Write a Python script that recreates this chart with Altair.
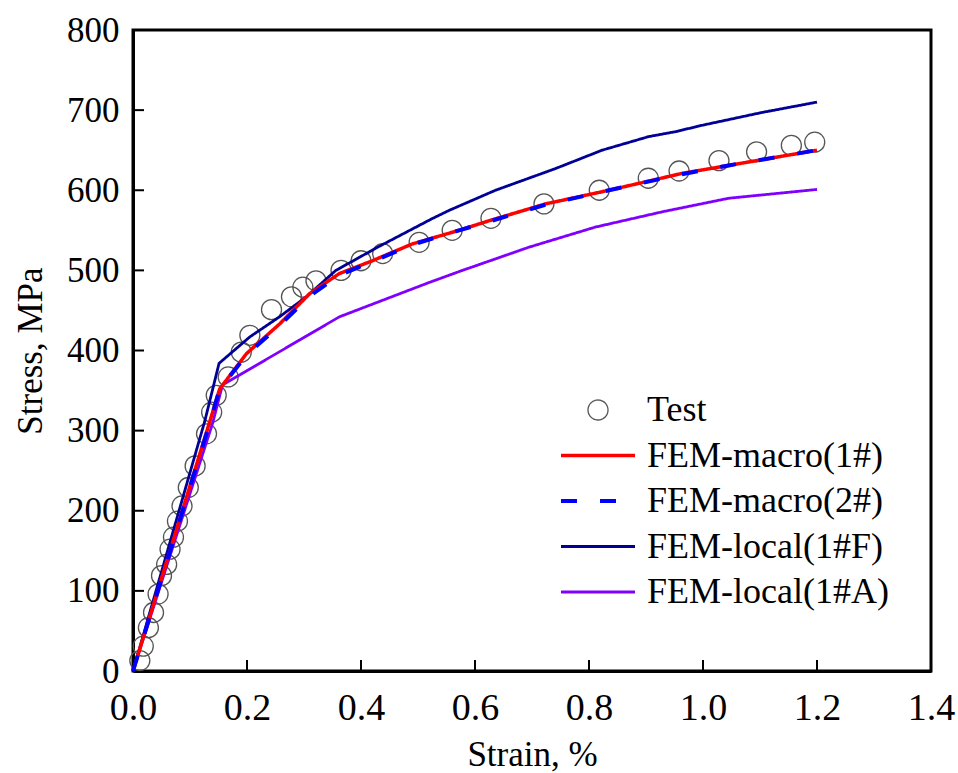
import altair as alt
import pandas as pd

# ---------------- data ----------------
series = ["Test", "FEM-macro(1#)", "FEM-macro(2#)", "FEM-local(1#F)", "FEM-local(1#A)"]
colors = ["#555555", "#FF0000", "#0000FF", "#000096", "#8000FF"]

test_strain = [0.012, 0.018, 0.027, 0.036, 0.044, 0.050, 0.059, 0.065, 0.071, 0.078,
               0.086, 0.097, 0.109, 0.129, 0.138, 0.146, 0.167, 0.190, 0.205, 0.243,
               0.278, 0.298, 0.321, 0.365, 0.400, 0.438, 0.502, 0.560, 0.628, 0.721,
               0.818, 0.904, 0.958, 1.028, 1.094, 1.155, 1.196]
test_stress = [13, 31, 54, 73, 96, 119, 133, 152, 167, 187,
               206, 229, 256, 296, 323, 344, 367, 398, 419, 451,
               467, 479, 487, 500, 512, 521, 535, 550, 565, 583,
               600, 615, 624, 637, 648, 656, 660]

macro1_strain = [0, 0.135, 0.152, 0.199, 0.257, 0.310, 0.362, 0.420, 0.490, 0.572,
                 0.625, 0.724, 0.835, 0.963, 1.045, 1.200]
macro1_stress = [0, 312, 352, 396, 433, 471, 496, 512, 533, 550,
                 562, 583, 600, 621, 631, 650]

macro2_strain = [0, 0.135, 0.152, 0.200, 0.257, 0.310, 0.362, 0.420, 0.490, 0.572,
                 0.625, 0.724, 0.835, 0.963, 1.045, 1.200]
macro2_stress = [0, 310, 352, 395, 431, 468, 494, 511, 532, 550,
                 561, 582, 600, 620, 631, 650]

localF_strain = [0, 0.126, 0.151, 0.205, 0.257, 0.304, 0.356, 0.432, 0.526, 0.555,
                 0.636, 0.741, 0.823, 0.905, 0.951, 0.998, 1.103, 1.200]
localF_stress = [0, 312, 384, 417, 442, 467, 500, 530, 565, 575,
                 600, 627, 650, 667, 673, 681, 697, 710]

localA_strain = [0, 0.140, 0.157, 0.362, 0.520, 0.578, 0.695, 0.811, 0.928, 1.045, 1.200]
localA_stress = [0, 310, 357, 442, 485, 500, 529, 554, 573, 590, 601]

x_ticks = [0.0, 0.2, 0.4, 0.6, 0.8, 1.0, 1.2, 1.4]
y_ticks = [0, 100, 200, 300, 400, 500, 600, 700, 800]

# ---------------- tables ----------------
test_df = pd.DataFrame({"strain": test_strain, "stress": test_stress, "series": "Test"})

def line_df(name, xs, ys):
    return pd.DataFrame({"strain": xs, "stress": ys, "series": name, "idx": list(range(len(xs)))})

df_m1 = line_df(series[1], macro1_strain, macro1_stress)
df_m2 = line_df(series[2], macro2_strain, macro2_stress)
df_lf = line_df(series[3], localF_strain, localF_stress)
df_la = line_df(series[4], localA_strain, localA_stress)

xtick_df = pd.DataFrame({"strain": x_ticks[1:-1]})
ytick_df = pd.DataFrame({"stress": y_ticks[1:-1]})

# ---------------- encodings ----------------
W, H = 798, 641
FONT = "Liberation Serif, Times New Roman, serif"

xscale = alt.Scale(domain=[0, 1.4], nice=False, zero=True)
yscale = alt.Scale(domain=[0, 800], nice=False, zero=True)

circle_path = "M1,0A1,1,0,1,1,-1,0A1,1,0,1,1,1,0Z"
line_path = "M-3.7,0L3.7,0"

leg = alt.Legend(orient="none", legendX=447, legendY=362, title=None, labelLimit=400)

color_enc = alt.Color("series:N", scale=alt.Scale(domain=series, range=colors), legend=leg)
shape_enc = alt.Shape("series:N", scale=alt.Scale(domain=series,
                      range=[circle_path, line_path, line_path, line_path, line_path]), legend=leg)
dash_enc = alt.StrokeDash("series:N", scale=alt.Scale(domain=series,
                          range=[[1, 0], [1, 0], [16, 23], [1, 0], [1, 0]]), legend=leg)
sw_enc = alt.StrokeWidth("series:N", scale=alt.Scale(type="ordinal", domain=series,
                         range=[1.3, 3.5, 4, 2.8, 2.8]), legend=leg)

x_axis = alt.Axis(orient="bottom", values=x_ticks, format=".1f", ticks=False,
                  labelFontSize=38, labelPadding=18, labelFont=FONT, labelColor="black",
                  labelFlush=False, domainColor="black", domainWidth=3, grid=False,
                  title="Strain, %", titleFont=FONT, titleFontSize=35,
                  titleFontWeight="normal", titleColor="black",
                  titleY=83, titleBaseline="middle")
y_axis = alt.Axis(orient="left", values=y_ticks, ticks=False,
                  labelFontSize=35, labelPadding=14, labelFont=FONT, labelColor="black",
                  labelFlush=False, domainColor="black", domainWidth=3, grid=False,
                  title="Stress, MPa", titleFont=FONT, titleFontSize=35,
                  titleFontWeight="normal", titleColor="black",
                  titleX=-103, titleY=H / 2, titleBaseline="middle")

points = alt.Chart(test_df).mark_point(filled=False, size=400, opacity=1).encode(
    x=alt.X("strain:Q", scale=xscale, axis=x_axis),
    y=alt.Y("stress:Q", scale=yscale, axis=y_axis),
    color=color_enc, shape=shape_enc, strokeWidth=sw_enc,
)

def line_layer(df):
    return alt.Chart(df).mark_line().encode(
        x=alt.X("strain:Q", scale=xscale, axis=x_axis),
        y=alt.Y("stress:Q", scale=yscale, axis=y_axis),
        order="idx:Q",
        color=color_enc, strokeDash=dash_enc, strokeWidth=sw_enc,
    )

# inward tick marks at the tick values
xticks_layer = alt.Chart(xtick_df).mark_rule(color="black", strokeWidth=2).encode(
    x=alt.X("strain:Q", scale=xscale, axis=x_axis),
    y=alt.value(H), y2=alt.value(H - 11),
)
yticks_layer = alt.Chart(ytick_df).mark_rule(color="black", strokeWidth=2).encode(
    y=alt.Y("stress:Q", scale=yscale, axis=y_axis),
    x=alt.value(0), x2=alt.value(11),
)

chart = alt.layer(
    points,
    line_layer(df_la),
    line_layer(df_lf),
    line_layer(df_m1),
    line_layer(df_m2),
    xticks_layer,
    yticks_layer,
).properties(
    width=W, height=H,
    autosize=alt.AutoSizeParams(type="none"),
    padding={"left": 133, "top": 30, "right": 27, "bottom": 102},
).configure_view(
    stroke="black", strokeWidth=3
).configure_legend(
    labelFont=FONT, labelFontSize=36, labelColor="black",
    symbolSize=400, rowPadding=9.5, labelOffset=31, padding=0, symbolOffset=0,
)

chart.save("out.html", embed_options={"renderer": "svg", "actions": False})
